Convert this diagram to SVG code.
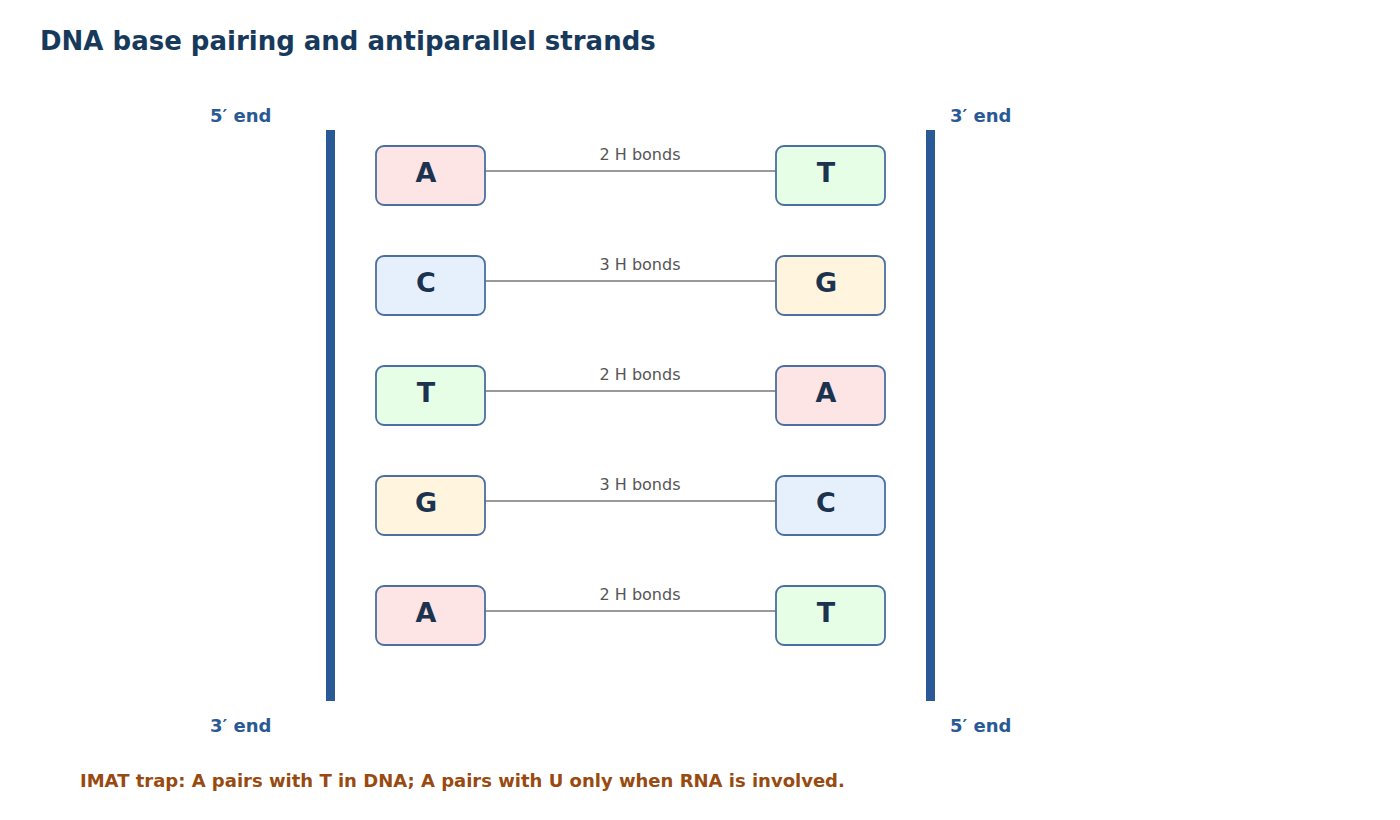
<svg xmlns="http://www.w3.org/2000/svg" width="1400" height="820" viewBox="0 0 1400 820">
<defs>
<style>
.title{font-family:"DejaVu Sans",sans-serif;font-weight:bold;font-size:26px;fill:#173a5c}
.end{font-family:"DejaVu Sans",sans-serif;font-weight:bold;font-size:18px;fill:#2a5a96}
.note{font-family:"DejaVu Sans",sans-serif;font-weight:bold;font-size:18px;fill:#984a10}
.base{stroke:#4a6fa0;stroke-width:1.8}
.letter{font-family:"DejaVu Sans",sans-serif;font-weight:bold;font-size:27px;fill:#1c3350;text-anchor:middle}
.bond{stroke:#777;stroke-width:1.6}
.blabel{font-family:"DejaVu Sans",sans-serif;font-size:16px;fill:#555;text-anchor:middle}
.strand{fill:#2a5a96}
.A{fill:#fde5e5}.T{fill:#e6fde6}.C{fill:#e6f0fd}.G{fill:#fff4de}
</style>
</defs>
<rect width="1400" height="820" fill="#fff"/>
<text class="title" x="40" y="50">DNA base pairing and antiparallel strands</text>
<g id="strand-left"><rect class="strand" x="326" y="130" width="9" height="571"/></g>
<g id="strand-right"><rect class="strand" x="926" y="130" width="9" height="571"/></g>
<g id="end-labels">
<text class="end" x="210" y="122">5′ end</text>
<text class="end" x="950" y="122">3′ end</text>
<text class="end" x="210" y="732">3′ end</text>
<text class="end" x="950" y="732">5′ end</text>
</g>
<g id="connectors">
<line class="bond" x1="485" y1="171" x2="776" y2="171"/>
<text class="blabel" x="640" y="160">2 H bonds</text>
<line class="bond" x1="485" y1="281" x2="776" y2="281"/>
<text class="blabel" x="640" y="270">3 H bonds</text>
<line class="bond" x1="485" y1="391" x2="776" y2="391"/>
<text class="blabel" x="640" y="380">2 H bonds</text>
<line class="bond" x1="485" y1="501" x2="776" y2="501"/>
<text class="blabel" x="640" y="490">3 H bonds</text>
<line class="bond" x1="485" y1="611" x2="776" y2="611"/>
<text class="blabel" x="640" y="600">2 H bonds</text>
</g>
<g id="L1"><rect class="base A" x="376" y="146" width="109" height="59" rx="8"/><text class="letter" x="426" y="182">A</text></g>
<g id="R1"><rect class="base T" x="776" y="146" width="109" height="59" rx="8"/><text class="letter" x="826" y="182">T</text></g>
<g id="L2"><rect class="base C" x="376" y="256" width="109" height="59" rx="8"/><text class="letter" x="426" y="292">C</text></g>
<g id="R2"><rect class="base G" x="776" y="256" width="109" height="59" rx="8"/><text class="letter" x="826" y="292">G</text></g>
<g id="L3"><rect class="base T" x="376" y="366" width="109" height="59" rx="8"/><text class="letter" x="426" y="402">T</text></g>
<g id="R3"><rect class="base A" x="776" y="366" width="109" height="59" rx="8"/><text class="letter" x="826" y="402">A</text></g>
<g id="L4"><rect class="base G" x="376" y="476" width="109" height="59" rx="8"/><text class="letter" x="426" y="512">G</text></g>
<g id="R4"><rect class="base C" x="776" y="476" width="109" height="59" rx="8"/><text class="letter" x="826" y="512">C</text></g>
<g id="L5"><rect class="base A" x="376" y="586" width="109" height="59" rx="8"/><text class="letter" x="426" y="622">A</text></g>
<g id="R5"><rect class="base T" x="776" y="586" width="109" height="59" rx="8"/><text class="letter" x="826" y="622">T</text></g>
<text class="note" x="80" y="787">IMAT trap: A pairs with T in DNA; A pairs with U only when RNA is involved.</text>
</svg>
